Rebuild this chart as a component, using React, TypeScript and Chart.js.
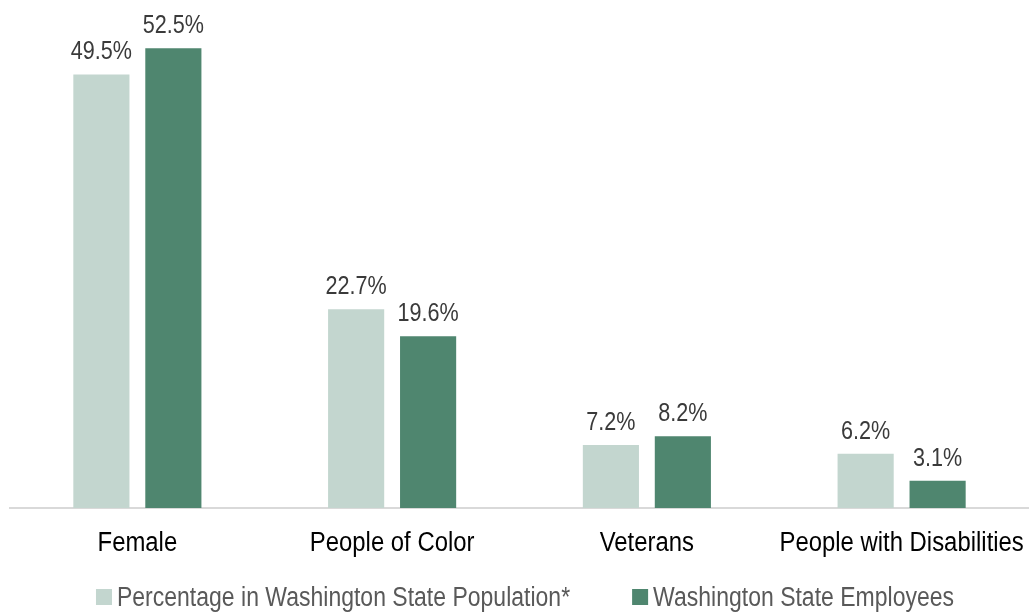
import React, { useEffect, useRef } from "react";
import { Chart, registerables } from "chart.js";

Chart.register(...registerables);

const categories = ["Female", "People of Color", "Veterans", "People with Disabilities"];
const populationPct = [49.5, 22.7, 7.2, 6.2];
const employeesPct = [52.5, 19.6, 8.2, 3.1];
const seriesNames = ["Percentage in Washington State Population*", "Washington State Employees"];
const seriesColors = ["#c3d6cf", "#4f866f"];

const FONT = "'Liberation Sans', Arial, sans-serif";

function narrowText(ctx: CanvasRenderingContext2D, text: string, x: number, y: number, align: "left" | "center", sq: number) {
  const w = ctx.measureText(text).width * sq;
  const startX = align === "center" ? x - w / 2 : x;
  ctx.save();
  ctx.translate(startX, y);
  ctx.scale(sq, 1);
  ctx.textAlign = "left";
  ctx.fillText(text, 0, 0);
  ctx.restore();
  return w;
}

const textPlugin = {
  id: "textPlugin",
  afterDraw(chart: any) {
    const ctx: CanvasRenderingContext2D = chart.ctx;
    const area = chart.chartArea;
    ctx.save();
    ctx.textBaseline = "alphabetic";
    // value labels
    ctx.font = `26px ${FONT}`;
    ctx.fillStyle = "#3a3a3a";
    chart.data.datasets.forEach((ds: any, i: number) => {
      const meta = chart.getDatasetMeta(i);
      meta.data.forEach((bar: any, j: number) => {
        narrowText(ctx, ds.data[j].toFixed(1) + "%", bar.x, bar.y - 15, "center", 0.83);
      });
    });
    // category labels
    ctx.font = `27px ${FONT}`;
    ctx.fillStyle = "#000000";
    const xs = chart.scales.x;
    chart.data.labels.forEach((lab: string, i: number) => {
      narrowText(ctx, lab, xs.getPixelForValue(i), 551, "center", 0.885);
    });
    // legend
    ctx.font = `27px ${FONT}`;
    const sqL = 0.852;
    const box = 16;
    const gapBoxText = 5;
    const gapItems = 62;
    const widths = chart.data.datasets.map((ds: any) => ctx.measureText(ds.label).width * sqL);
    const total = widths.reduce((a: number, w: number) => a + box + gapBoxText + w, 0) + gapItems * (widths.length - 1);
    let x = 525 - total / 2;
    const baseY = 606;
    chart.data.datasets.forEach((ds: any, i: number) => {
      ctx.fillStyle = ds.backgroundColor;
      ctx.fillRect(x, baseY - 17, box, box);
      x += box + gapBoxText;
      ctx.fillStyle = "#595959";
      narrowText(ctx, ds.label, x, baseY, "left", sqL);
      x += widths[i] + gapItems;
    });
    ctx.restore();
  },
};

export default function App() {
  const ref = useRef<HTMLCanvasElement>(null);
  useEffect(() => {
    const chart = new Chart(ref.current!, {
      type: "bar",
      data: {
        labels: categories,
        datasets: [
          { label: seriesNames[0], data: populationPct, backgroundColor: seriesColors[0], categoryPercentage: 0.565, barPercentage: 0.78 },
          { label: seriesNames[1], data: employeesPct, backgroundColor: seriesColors[1], categoryPercentage: 0.565, barPercentage: 0.78 },
        ],
      },
      options: {
        animation: false,
        responsive: false,
        layout: { padding: { left: 10, right: 0, top: 0, bottom: 100 } },
        plugins: {
          tooltip: { enabled: false },
          legend: { display: false },
        },
        scales: {
          x: {
            grid: { display: false },
            border: { display: true, color: "#d9d9d9", width: 2 },
            ticks: { display: false },
          },
          y: { display: false, min: 0, max: 58 },
        },
      },
      plugins: [textPlugin],
    });
    return () => chart.destroy();
  }, []);
  return (
    <div style={{ position: "fixed", left: 0, top: 0, width: 1029, height: 616, background: "#fff" }}>
      <canvas ref={ref} width={1029} height={616} style={{ width: 1029, height: 616 }} />
    </div>
  );
}
